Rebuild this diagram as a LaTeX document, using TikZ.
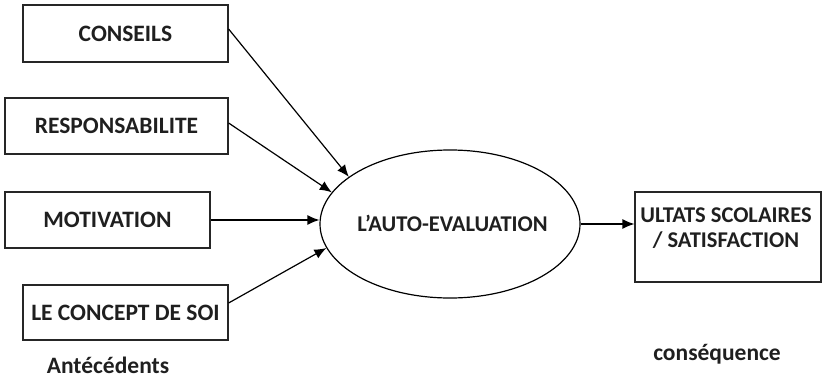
\documentclass[tikz,border=0pt]{standalone}
\usepackage{fontspec}
\setmainfont{Carlito}
\usetikzlibrary{arrows.meta,shapes.geometric}
\begin{document}
\begin{tikzpicture}[x=1pt,y=-1pt,
  every node/.style={font=\bfseries\fontsize{23.5}{26}\selectfont, text=black!88},
  factor/.style={draw=black!85, line width=1.2pt, rectangle, inner sep=0pt},
  link/.style={draw=black, line width=1.2pt, -{Latex[length=12pt,width=10pt]}}]
\useasboundingbox (0,0) rectangle (822,380);
% antecedent factors
\node[factor, minimum width=205pt, minimum height=57pt] (cons) at (125.5,33.5) {CONSEILS};
\node[factor, minimum width=223pt, minimum height=56pt] (resp) at (116.5,126) {RESPONSABILITE};
\node[factor, minimum width=205pt, minimum height=56pt] (moti) at (107.5,220) {MOTIVATION};
\node[factor, minimum width=205pt, minimum height=55pt] (soi) at (125.5,312.5) {LE CONCEPT DE SOI};
% central concept
\node[draw=black, line width=1.2pt, ellipse, minimum width=260pt, minimum height=148pt, inner sep=0pt] (auto) at (450,224) {};
\node[font=\bfseries\fontsize{22.5}{26}\selectfont, inner sep=0pt] (autotxt) at (452.5,223) {L’AUTO-EVALUATION};
% outcome
\node[factor, minimum width=186pt, minimum height=90pt] (res) at (728,237) {};
\node[align=center, inner sep=0pt, font=\bfseries\fontsize{22.5}{25}\selectfont] (restxt) at (726,228) {ULTATS SCOLAIRES\\/ SATISFACTION};
% connectors
\draw[link] (cons.east |- 0,29) -- (auto.155);
\draw[link] (resp.east |- 0,123) -- (auto.165);
\draw[link] (moti.east) -- (auto.west |- moti.east);
\draw[link] (soi.east |- 0,303) -- (auto.191);
\draw[link] (auto.east) -- (auto.east -| res.west);
% captions
\node (ante) at (108,365) {Antécédents};
\node (cons2) at (717,354) {conséquence};
\end{tikzpicture}
\end{document}
